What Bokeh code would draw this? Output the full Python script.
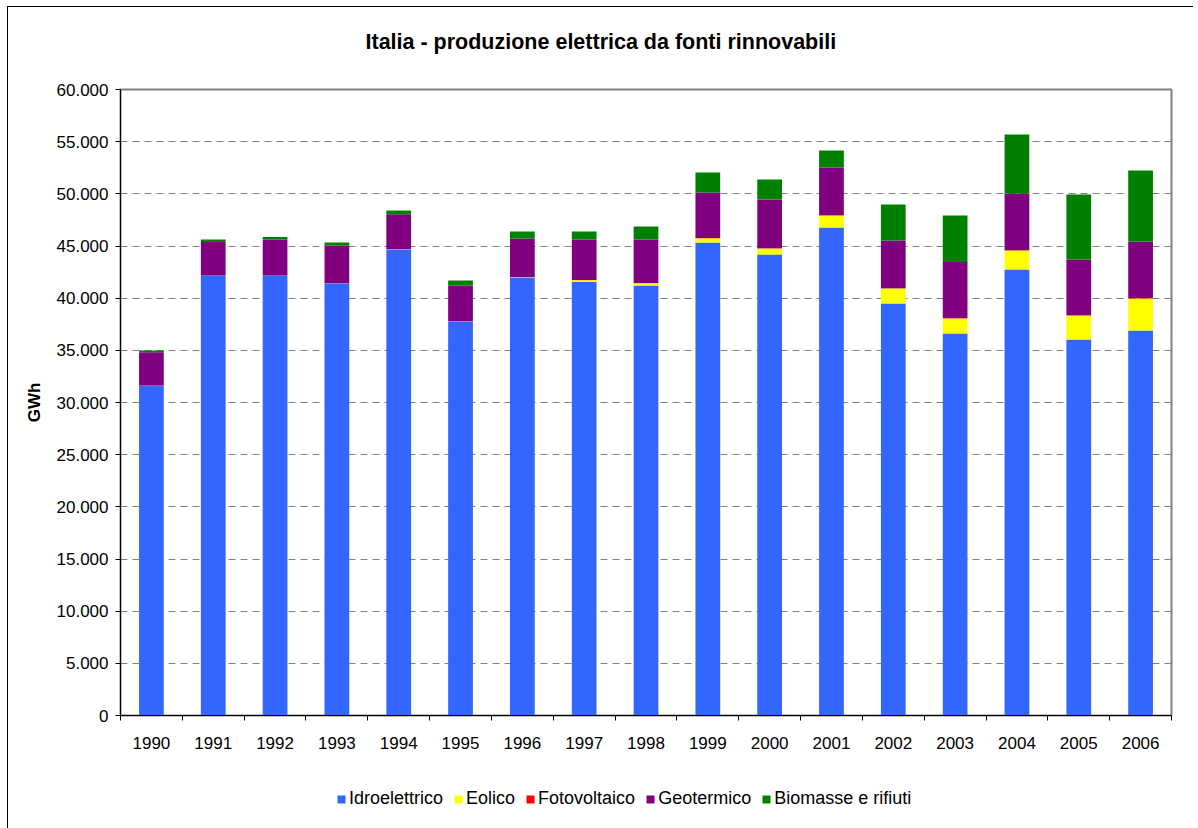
from bokeh.plotting import figure
from bokeh.layouts import column
from bokeh.models import FixedTicker, Range1d, Legend, LegendItem, Title
from bokeh.embed import file_html
from bokeh.resources import INLINE

years = ["1990", "1991", "1992", "1993", "1994", "1995", "1996", "1997", "1998",
         "1999", "2000", "2001", "2002", "2003", "2004", "2005", "2006"]
idroelettrico = [31630, 42170, 42170, 41410, 44670, 37765, 41980, 41570, 41215,
                 45340, 44190, 46775, 39490, 36615, 42750, 36040, 36900]
eolico = [2, 2, 1, 4, 7, 10, 33, 155, 225, 410, 575, 1150, 1440, 1440, 1820, 2300, 3070]
fotovoltaico = [4, 5, 6, 8, 9, 10, 11, 12, 12, 14, 18, 19, 20, 40, 27, 31, 35]
geotermico = [3190, 3195, 3450, 3630, 3365, 3430, 3700, 3890, 4175,
              4365, 4680, 4580, 4580, 5360, 5435, 5340, 5430]
biomasse = [160, 255, 225, 290, 350, 480, 670, 765, 1245,
            1917, 1916, 1630, 3450, 4475, 5656, 6232, 6805]

series_names = ["Idroelettrico", "Eolico", "Fotovoltaico", "Geotermico", "Biomasse e rifiuti"]
colors = ["#3366FF", "#FFFF00", "#FF0000", "#800080", "#008000"]
y_ticks = list(range(0, 60001, 5000))

FONT = "Liberation Sans"

x_pos = [i + 0.5 for i in range(len(years))]
data = {"x": x_pos, "Idroelettrico": idroelettrico, "Eolico": eolico,
        "Fotovoltaico": fotovoltaico, "Geotermico": geotermico,
        "Biomasse e rifiuti": biomasse}

W = 1185
p = figure(width=W, height=750, output_backend="svg", toolbar_location=None,
           x_range=Range1d(0, len(years)), y_range=Range1d(0, 60000),
           min_border_left=112, min_border_right=22, min_border_top=82,
           min_border_bottom=42)

renderers = p.vbar_stack(series_names, x="x", width=0.4, source=data,
                         color=colors, line_color=None)

# spacer between frame and title (first "above" item sits nearest the frame)
spacer = Title(text=" ", text_font_size="1px", standoff=28, text_color="white")
p.add_layout(spacer, "above")
title = Title(text="Italia - produzione elettrica da fonti rinnovabili",
              align="left", offset=245, standoff=10,
              text_font=FONT, text_font_size="21.5px", text_font_style="bold",
              text_color="black")
p.add_layout(title, "above")

# y axis
p.yaxis.ticker = FixedTicker(ticks=y_ticks)
p.yaxis.major_label_overrides = {v: (f"{v:,}".replace(",", ".")) for v in y_ticks}
p.yaxis.major_label_text_font = FONT
p.yaxis.major_label_text_font_size = "17px"
p.yaxis.major_label_text_color = "black"
p.yaxis.major_tick_out = 5
p.yaxis.major_tick_in = 0
p.yaxis.minor_tick_line_color = None
p.yaxis.axis_line_color = "black"
p.yaxis.major_tick_line_color = "black"
p.yaxis.major_label_standoff = 7
p.yaxis.axis_label = "GWh"
p.yaxis.axis_label_text_font = FONT
p.yaxis.axis_label_text_font_size = "17px"
p.yaxis.axis_label_text_font_style = "bold"
p.yaxis.axis_label_text_color = "black"
p.yaxis.axis_label_standoff = 10

# x axis: labels at centres, ticks at boundaries
p.xaxis.ticker = FixedTicker(ticks=x_pos, minor_ticks=list(range(len(years) + 1)))
p.xaxis.major_label_overrides = {x: y for x, y in zip(x_pos, years)}
p.xaxis.major_label_text_font = FONT
p.xaxis.major_label_text_font_size = "17px"
p.xaxis.major_label_text_color = "black"
p.xaxis.major_tick_line_color = None
p.xaxis.major_tick_out = 5
p.xaxis.minor_tick_out = 5
p.xaxis.minor_tick_in = 0
p.xaxis.minor_tick_line_color = "black"
p.xaxis.axis_line_color = "black"
p.xaxis.major_label_standoff = 16

p.xgrid.grid_line_color = None
p.ygrid.ticker = FixedTicker(ticks=y_ticks[1:])
p.ygrid.grid_line_color = "#808080"
p.ygrid.grid_line_dash = "7 5"
p.ygrid.grid_line_width = 1

p.outline_line_color = "#808080"
p.outline_line_width = 2
p.background_fill_color = "white"
p.border_fill_color = "white"

# legend strip below the chart
lg = figure(width=W, height=71, output_backend="svg", toolbar_location=None,
            x_range=Range1d(0, 1), y_range=Range1d(0, 1),
            x_axis_type=None, y_axis_type=None,
            min_border_left=0, min_border_right=0, min_border_top=0, min_border_bottom=0)
lg.xgrid.grid_line_color = None
lg.ygrid.grid_line_color = None
lg.outline_line_color = None
lg.border_fill_color = "white"
dummies = [lg.vbar(x=[0.5], top=[0], bottom=[0], width=0.0, fill_color=c, line_color=None)
           for c in colors]
items = [LegendItem(label=n, renderers=[r]) for n, r in zip(series_names, dummies)]
legend = Legend(items=items, orientation="horizontal", location=(216, 19),
                glyph_width=10, glyph_height=10, label_standoff=3, spacing=10,
                label_text_font=FONT, label_text_font_size="18px",
                label_text_color="black", label_height=12,
                border_line_color=None, background_fill_alpha=0,
                padding=0, margin=0)
lg.add_layout(legend, "center")

layout = column(p, lg, spacing=0)
layout.styles = {"margin-left": "7px", "margin-top": "6px",
                 "border-left": "1px solid black", "border-top": "1px solid black"}

open("out.html", "w").write(file_html(layout, INLINE))
